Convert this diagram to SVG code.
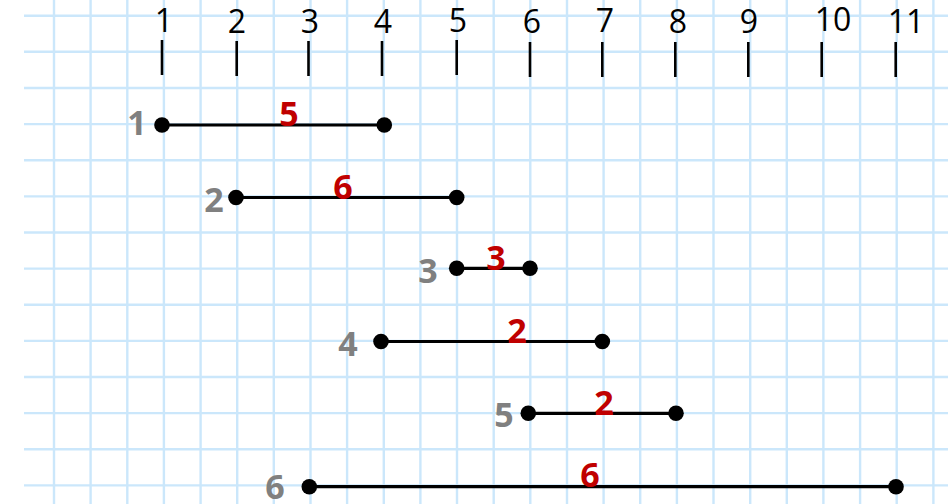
<svg xmlns="http://www.w3.org/2000/svg" width="948" height="504" viewBox="0 0 948 504">
<defs>
<style>
.grid line{stroke:#cbe7fb;stroke-width:2.4}
.tick{stroke:#000;stroke-width:2.6}
.ax{font-family:"Open Sans","Liberation Sans",sans-serif;font-size:32px;fill:#000;text-anchor:middle}
.idx{font-family:"Open Sans","Liberation Sans",sans-serif;font-weight:bold;font-size:34px;fill:#808080;text-anchor:middle}
.len{font-family:"Open Sans","Liberation Sans",sans-serif;font-weight:bold;font-size:34px;fill:#c00000;text-anchor:middle}
.seg{stroke:#000;stroke-width:3.2}
.dot{fill:#000}
</style>
</defs>
<rect width="948" height="504" fill="#fff"/>
<g class="grid">
<line x1="24" y1="15.7" x2="948" y2="15.7"/>
<line x1="24" y1="51.8" x2="948" y2="51.8"/>
<line x1="24" y1="88" x2="948" y2="88"/>
<line x1="24" y1="124.1" x2="948" y2="124.1"/>
<line x1="24" y1="160.2" x2="948" y2="160.2"/>
<line x1="24" y1="196.4" x2="948" y2="196.4"/>
<line x1="24" y1="232.5" x2="948" y2="232.5"/>
<line x1="24" y1="268.6" x2="948" y2="268.6"/>
<line x1="24" y1="304.7" x2="948" y2="304.7"/>
<line x1="24" y1="340.9" x2="948" y2="340.9"/>
<line x1="24" y1="377" x2="948" y2="377"/>
<line x1="24" y1="413.1" x2="948" y2="413.1"/>
<line x1="24" y1="449.3" x2="948" y2="449.3"/>
<line x1="24" y1="485.4" x2="948" y2="485.4"/>
<line x1="54" y1="0" x2="54" y2="504"/>
<line x1="90.6" y1="0" x2="90.6" y2="504"/>
<line x1="127.3" y1="0" x2="127.3" y2="504"/>
<line x1="163.9" y1="0" x2="163.9" y2="504"/>
<line x1="200.6" y1="0" x2="200.6" y2="504"/>
<line x1="237.2" y1="0" x2="237.2" y2="504"/>
<line x1="273.8" y1="0" x2="273.8" y2="504"/>
<line x1="310.5" y1="0" x2="310.5" y2="504"/>
<line x1="347.1" y1="0" x2="347.1" y2="504"/>
<line x1="383.8" y1="0" x2="383.8" y2="504"/>
<line x1="420.4" y1="0" x2="420.4" y2="504"/>
<line x1="457" y1="0" x2="457" y2="504"/>
<line x1="493.7" y1="0" x2="493.7" y2="504"/>
<line x1="530.3" y1="0" x2="530.3" y2="504"/>
<line x1="567" y1="0" x2="567" y2="504"/>
<line x1="603.6" y1="0" x2="603.6" y2="504"/>
<line x1="640.2" y1="0" x2="640.2" y2="504"/>
<line x1="676.9" y1="0" x2="676.9" y2="504"/>
<line x1="713.5" y1="0" x2="713.5" y2="504"/>
<line x1="750.2" y1="0" x2="750.2" y2="504"/>
<line x1="786.8" y1="0" x2="786.8" y2="504"/>
<line x1="823.4" y1="0" x2="823.4" y2="504"/>
<line x1="860.1" y1="0" x2="860.1" y2="504"/>
<line x1="896.7" y1="0" x2="896.7" y2="504"/>
<line x1="933.4" y1="0" x2="933.4" y2="504"/>
</g>
<g id="axis">
<line class="tick" x1="162" y1="40" x2="162" y2="75"/>
<line class="tick" x1="236.7" y1="41" x2="236.7" y2="76"/>
<line class="tick" x1="308.5" y1="41" x2="308.5" y2="76"/>
<line class="tick" x1="382" y1="41" x2="382" y2="76"/>
<line class="tick" x1="456.7" y1="40" x2="456.7" y2="75"/>
<line class="tick" x1="530" y1="42" x2="530" y2="77"/>
<line class="tick" x1="602.3" y1="42" x2="602.3" y2="77"/>
<line class="tick" x1="675.3" y1="42" x2="675.3" y2="77"/>
<line class="tick" x1="748.3" y1="42" x2="748.3" y2="77"/>
<line class="tick" x1="821.7" y1="42" x2="821.7" y2="77"/>
<line class="tick" x1="895.7" y1="42" x2="895.7" y2="77"/>
<text class="ax" x="164" y="31.7">1</text>
<text class="ax" x="237" y="33.3">2</text>
<text class="ax" x="310" y="33">3</text>
<text class="ax" x="383" y="33.3">4</text>
<text class="ax" x="458" y="31.7">5</text>
<text class="ax" x="532" y="33">6</text>
<text class="ax" x="605" y="31.7">7</text>
<text class="ax" x="678" y="33.3">8</text>
<text class="ax" x="749" y="33.3">9</text>
<text class="ax" x="833" y="30.7">10</text>
<text class="ax" x="906" y="33.3">11</text>
</g>
<g id="connectors">
<line class="seg" x1="162" y1="125" x2="384" y2="125"/>
<line class="seg" x1="236" y1="197.5" x2="457" y2="197.5"/>
<line class="seg" x1="457" y1="268.3" x2="530" y2="268.3"/>
<line class="seg" x1="381" y1="341.5" x2="602.3" y2="341.5"/>
<line class="seg" x1="528.3" y1="413.3" x2="676" y2="413.3"/>
<line class="seg" x1="309.3" y1="486.7" x2="896" y2="486.7"/>
</g>
<g id="seg1">
<circle class="dot" cx="162" cy="125" r="7.8"/>
<circle class="dot" cx="384.3" cy="125" r="7.8"/>
<text class="idx" x="137" y="134.5">1</text>
<text class="len" x="289" y="126">5</text>
</g>
<g id="seg2">
<circle class="dot" cx="236" cy="197.5" r="7.8"/>
<circle class="dot" cx="456.7" cy="197.5" r="7.8"/>
<text class="idx" x="214" y="212">2</text>
<text class="len" x="343" y="199.3">6</text>
</g>
<g id="seg3">
<circle class="dot" cx="456.7" cy="268.3" r="7.8"/>
<circle class="dot" cx="530" cy="268.3" r="7.8"/>
<text class="idx" x="428" y="283">3</text>
<text class="len" x="496" y="270">3</text>
</g>
<g id="seg4">
<circle class="dot" cx="381" cy="341.5" r="7.8"/>
<circle class="dot" cx="602.3" cy="341.5" r="7.8"/>
<text class="idx" x="348" y="356">4</text>
<text class="len" x="517" y="343">2</text>
</g>
<g id="seg5">
<circle class="dot" cx="528.3" cy="413.3" r="7.8"/>
<circle class="dot" cx="676" cy="413.3" r="7.8"/>
<text class="idx" x="504" y="427">5</text>
<text class="len" x="604" y="415">2</text>
</g>
<g id="seg6">
<circle class="dot" cx="309.3" cy="486.7" r="7.8"/>
<circle class="dot" cx="896" cy="486.7" r="7.8"/>
<text class="idx" x="275" y="498.5">6</text>
<text class="len" x="590" y="487">6</text>
</g>
</svg>
